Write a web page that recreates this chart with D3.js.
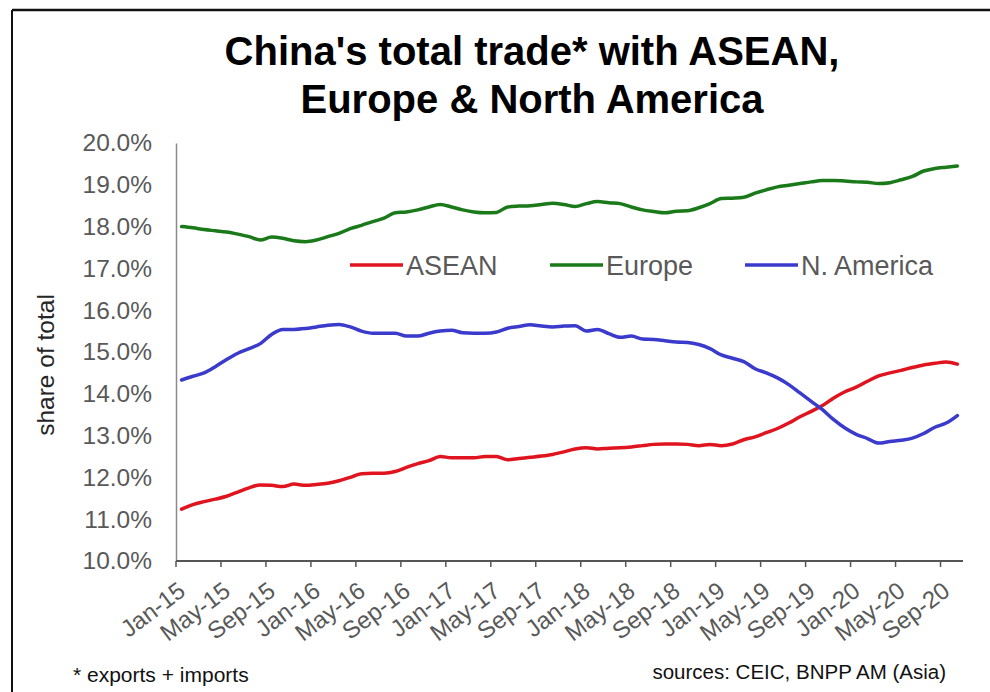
<!DOCTYPE html>
<html>
<head>
<meta charset="utf-8">
<script src="https://cdn.jsdelivr.net/npm/d3@7"></script>
<style>
  html, body { margin: 0; padding: 0; background: #fff; }
  svg { display: block; font-family: Arial, "Liberation Sans", sans-serif; }
</style>
</head>
<body>
<svg id="chart" width="990" height="692"></svg>
<script>
// Monthly share of China's total trade (%), Jan-15 .. Oct-20
const firstMonth = new Date(2015, 0, 1);
const lastMonth = new Date(2020, 9, 1);

const asean = [
  11.24, 11.35, 11.42, 11.48, 11.55, 11.65, 11.75, 11.82, 11.81, 11.78, 11.84, 11.81,
  11.83, 11.86, 11.92, 12.00, 12.09, 12.10, 12.10, 12.14, 12.24, 12.33, 12.40, 12.50,
  12.47, 12.47, 12.47, 12.50, 12.50, 12.42, 12.45, 12.48, 12.51, 12.55, 12.61, 12.68,
  12.71, 12.68, 12.70, 12.71, 12.73, 12.76, 12.79, 12.80, 12.80, 12.79, 12.76, 12.79,
  12.76, 12.80, 12.90, 12.97, 13.07, 13.17, 13.30, 13.45, 13.58, 13.72, 13.90, 14.05,
  14.16, 14.30, 14.43, 14.50, 14.56, 14.63, 14.69, 14.73, 14.76, 14.71
];
const europe = [
  18.00, 17.97, 17.93, 17.90, 17.87, 17.82, 17.76, 17.68, 17.75, 17.72, 17.66, 17.64,
  17.68, 17.76, 17.84, 17.95, 18.03, 18.12, 18.20, 18.33, 18.35, 18.40, 18.47, 18.53,
  18.47, 18.40, 18.35, 18.33, 18.34, 18.47, 18.49, 18.50, 18.53, 18.56, 18.53, 18.48,
  18.55, 18.60, 18.57, 18.55, 18.47, 18.40, 18.36, 18.33, 18.37, 18.38, 18.45, 18.55,
  18.67, 18.68, 18.70, 18.80, 18.88, 18.95, 18.99, 19.03, 19.07, 19.10, 19.10, 19.09,
  19.07, 19.06, 19.03, 19.05, 19.12, 19.20, 19.33, 19.39, 19.42, 19.45
];
const northAmerica = [
  14.33, 14.42, 14.50, 14.65, 14.82, 14.97, 15.08, 15.20, 15.42, 15.54, 15.54, 15.56,
  15.60, 15.64, 15.66, 15.60, 15.50, 15.45, 15.45, 15.45, 15.38, 15.38, 15.45, 15.50,
  15.52, 15.46, 15.45, 15.45, 15.48, 15.57, 15.61, 15.65, 15.62, 15.60, 15.62, 15.63,
  15.50, 15.54, 15.44, 15.35, 15.38, 15.31, 15.30, 15.27, 15.24, 15.23, 15.18, 15.08,
  14.93, 14.85, 14.77, 14.60, 14.50, 14.38, 14.22, 14.02, 13.82, 13.62, 13.38, 13.18,
  13.03, 12.93, 12.82, 12.86, 12.89, 12.94, 13.05, 13.20, 13.30, 13.48
];

const seriesNames = ["ASEAN", "Europe", "N. America"];
const yTicks = [10, 11, 12, 13, 14, 15, 16, 17, 18, 19, 20];
const xTickLabels = [
  "Jan-15", "May-15", "Sep-15", "Jan-16", "May-16", "Sep-16", "Jan-17", "May-17", "Sep-17",
  "Jan-18", "May-18", "Sep-18", "Jan-19", "May-19", "Sep-19", "Jan-20", "May-20", "Sep-20"
];
const titleLines = ["China's total trade* with ASEAN,", "Europe & North America"];
const yTitle = "share of total";
const footNote = "* exports + imports";
const sourceNote = "sources: CEIC, BNPP AM (Asia)";

// Styling
const lineColors = ["#e0141e", "#1a7a1a", "#3a3acc"];
const textGrey = "#595959";

const months = d3.timeMonths(firstMonth, d3.timeMonth.offset(lastMonth, 1));
const fmtMonth = d3.timeFormat("%b-%y");

const svg = d3.select("#chart");
const margin = { left: 176, right: 27, top: 143, bottom: 131 };
const W = 990, H = 692;

// Frame lines
svg.append("line").attr("x1", 12).attr("x2", W).attr("y1", 10).attr("y2", 10)
  .attr("stroke", "#111").attr("stroke-width", 2.5);
svg.append("line").attr("x1", 12).attr("x2", 12).attr("y1", 10).attr("y2", H)
  .attr("stroke", "#111").attr("stroke-width", 2);

// Scales: each month is a band, points sit in the band centre
const x = d3.scaleBand()
  .domain(months.map(fmtMonth))
  .range([margin.left, W - margin.right])
  .padding(0);
const y = d3.scaleLinear().domain([10, 20]).range([H - margin.bottom, margin.top]);

// Title
svg.append("g").selectAll("text").data(titleLines).join("text")
  .attr("x", 532)
  .attr("y", (d, i) => 65 + i * 48)
  .attr("text-anchor", "middle")
  .attr("font-size", 40)
  .attr("font-weight", "bold")
  .attr("fill", "#000")
  .text(d => d);

// Y axis
const yAxis = d3.axisLeft(y).tickValues(yTicks).tickSize(0).tickPadding(24)
  .tickFormat(d => d3.format(".1f")(d) + "%");
const gy = svg.append("g").attr("transform", `translate(${margin.left},0)`).call(yAxis);
gy.select(".domain").attr("stroke", "#8a8a8a").attr("stroke-width", 1.5);
gy.selectAll("text").attr("font-size", 24.5).attr("fill", textGrey)
  .attr("font-family", "Arial, 'Liberation Sans', sans-serif");

// X axis: ticks at the start of every fourth month
const tickMonths = xTickLabels;
const xAxis = d3.axisBottom(x).tickValues(tickMonths).tickSize(6).tickFormat(d => d);
const gx = svg.append("g").attr("transform", `translate(0,${H - margin.bottom})`).call(xAxis);
gx.select(".domain").attr("stroke", "#555").attr("stroke-width", 2)
  .attr("d", `M${margin.left},0H${W - margin.right}`);
gx.selectAll(".tick").attr("transform", d => `translate(${x(d)},0)`);
gx.selectAll(".tick line").attr("stroke", "#555").attr("stroke-width", 1.5);
gx.selectAll(".tick text")
  .attr("font-size", 24)
  .attr("fill", textGrey)
  .attr("font-family", "Arial, 'Liberation Sans', sans-serif")
  .attr("text-anchor", "end")
  .attr("dy", 0)
  .attr("y", 0)
  .attr("transform", "translate(11,33) rotate(-37)");

// Series lines
const series = [asean, europe, northAmerica];
const line = d3.line()
  .x((d, i) => x(fmtMonth(months[i])) + x.bandwidth() / 2)
  .y(d => y(d))
  .curve(d3.curveMonotoneX);
svg.append("g").selectAll("path").data(series).join("path")
  .attr("d", line)
  .attr("fill", "none")
  .attr("stroke", (d, i) => lineColors[i])
  .attr("stroke-width", 3.5)
  .attr("stroke-linejoin", "round")
  .attr("stroke-linecap", "round");

// Legend
const legendX = [350, 550, 745];
const lg = svg.append("g").selectAll("g").data(seriesNames).join("g")
  .attr("transform", (d, i) => `translate(${legendX[i]},265)`);
lg.append("line").attr("x1", 0).attr("x2", 53).attr("y1", 0).attr("y2", 0)
  .attr("stroke", (d, i) => lineColors[i]).attr("stroke-width", 3.5);
lg.append("text").attr("x", 56).attr("y", 10)
  .attr("font-size", 27).attr("fill", textGrey).text(d => d);

// Axis title
svg.append("text")
  .attr("transform", "translate(54,365) rotate(-90)")
  .attr("text-anchor", "middle")
  .attr("font-size", 24.5)
  .attr("fill", "#262626")
  .text(yTitle);

// Notes
svg.append("text").attr("x", 73).attr("y", 682)
  .attr("font-size", 21).attr("fill", "#111").text(footNote);
svg.append("text").attr("x", 946).attr("y", 679).attr("text-anchor", "end")
  .attr("font-size", 20.5).attr("fill", "#111").text(sourceNote);
</script>
</body>
</html>
